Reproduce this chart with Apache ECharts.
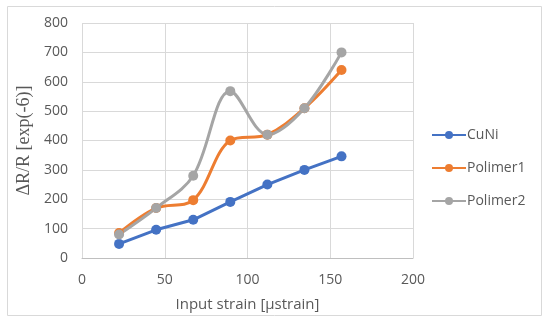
<!DOCTYPE html>
<html><head><meta charset="utf-8">
<script src="https://cdn.jsdelivr.net/npm/echarts@6/dist/echarts.min.js"></script>
<style>html,body{margin:0;padding:0;background:#fff}#c{width:550px;height:323px}</style>
</head><body><div id="c"></div>
<script>
const strain = [22.4, 44.8, 67.2, 89.6, 112, 134.4, 156.8];
const cuni = [48, 96, 130, 191, 250, 300, 346];
const polimer1 = [85, 170, 197, 400, 420, 510, 640];
const polimer2 = [80, 170, 280, 568, 420, 510, 700];
const xTicks = [0, 50, 100, 150, 200];
const yTicks = [0, 100, 200, 300, 400, 500, 600, 700, 800];
const seriesNames = ['CuNi', 'Polimer1', 'Polimer2'];
const colors = ['#4472C4', '#ED7D31', '#A5A5A5'];
const values = [cuni, polimer1, polimer2];

const font = '"Open Sans", sans-serif';
const fs = 14;
const chart = echarts.init(document.getElementById('c'));
chart.setOption({
  animation: false,
  textStyle: {fontFamily: font},
  graphic: [{type: 'rect', shape: {x: 7.5, y: 6.5, width: 534, height: 309}, style: {fill: 'none', stroke: '#d9d9d9', lineWidth: 1}}],
  grid: {left: 82, right: 137, top: 23, bottom: 65},
  legend: {
    orient: 'vertical', left: 431, top: 128, padding: 0, itemWidth: 34, itemHeight: 10, itemGap: 19,
    textStyle: {fontFamily: font, fontSize: 14, color: '#595959', padding: [0,0,0,-4]},
    data: seriesNames
  },
  xAxis: {
    type: 'value', min: xTicks[0], max: xTicks[xTicks.length-1], interval: 50,
    name: 'Input strain [μstrain]', nameLocation: 'middle', nameGap: 39,
    nameTextStyle: {fontFamily: font, fontSize: 15, color: '#595959'},
    axisLine: {show: true, lineStyle: {color: '#bfbfbf'}},
    axisTick: {show: false},
    axisLabel: {fontFamily: font, fontSize: fs, color: '#595959', margin: 15},
    splitLine: {show: true, lineStyle: {color: '#d9d9d9'}}
  },
  yAxis: {
    type: 'value', min: yTicks[0], max: yTicks[yTicks.length-1], interval: 100,
    name: 'ΔR/R [exp(-6)]', nameLocation: 'middle', nameGap: 42, nameRotate: 90,
    nameTextStyle: {fontFamily: '"Liberation Serif", serif', fontSize: 18, color: '#595959'},
    axisLine: {show: false},
    axisTick: {show: false},
    axisLabel: {fontFamily: font, fontSize: fs, color: '#595959', margin: 14},
    splitLine: {show: true, lineStyle: {color: '#d9d9d9'}}
  },
  series: seriesNames.map((n, i) => ({
    name: n, type: 'line', smooth: n === 'CuNi' ? false : 0.35,
    data: strain.map((x, j) => [x, values[i][j]]),
    symbol: 'circle', symbolSize: 10,
    itemStyle: {color: colors[i]},
    lineStyle: {color: colors[i], width: 3}
  }))
});
</script></body></html>
